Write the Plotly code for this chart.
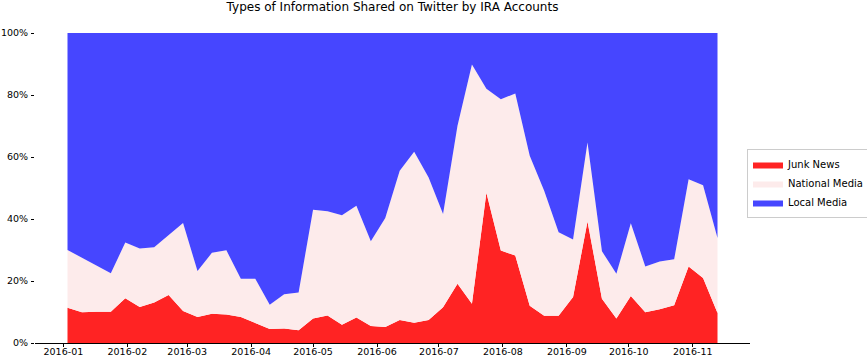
import pandas as pd
import plotly.graph_objects as go

# Weekly buckets (week ending Sunday)
weeks = pd.date_range("2016-01-03", periods=46, freq="7D")

series_names = ["Junk News", "National Media", "Local Media"]

junk_news = [11.4, 9.9, 10.1, 10.1, 14.4, 11.6, 13.1, 15.5, 10.3, 8.4, 9.4, 9.2, 8.4, 6.4, 4.5,
             4.7, 4.1, 7.9, 8.9, 5.9, 8.2, 5.5, 5.2, 7.4, 6.5, 7.4, 11.5, 19.1, 12.7, 48.5,
             29.8, 28.2, 12.0, 8.8, 8.8, 14.8, 39.2, 14.3, 7.9, 15.2, 9.9, 10.9, 12.2, 24.7,
             21.0, 9.7]
national_media = [18.6, 17.6, 14.8, 12.4, 18.0, 18.9, 17.8, 19.3, 28.4, 14.8, 19.7, 20.7, 12.3,
                  14.3, 7.8, 11.0, 12.2, 35.1, 33.6, 35.3, 36.1, 27.3, 35.1, 48.2, 55.2, 46.0,
                  30.1, 51.0, 77.1, 33.5, 48.8, 52.3, 48.4, 40.3, 26.9, 18.6, 25.5, 15.3, 14.4,
                  23.4, 14.8, 15.4, 14.8, 28.1, 29.9, 24.2]
local_media = [70.0, 72.5, 75.1, 77.5, 67.6, 69.5, 69.1, 65.2, 61.3, 76.8, 70.9, 70.1, 79.3,
               79.3, 87.7, 84.3, 83.7, 57.0, 57.5, 58.8, 55.7, 67.2, 59.7, 44.4, 38.3, 46.6,
               58.4, 29.9, 10.2, 18.0, 21.4, 19.5, 39.6, 50.9, 64.3, 66.6, 35.3, 70.4, 77.7,
               61.4, 75.3, 73.7, 73.0, 47.2, 49.1, 66.1]

colors = ["#FF2323", "#FDEBEB", "#4646FF"]

month_ticks = pd.date_range("2016-01-01", "2016-11-01", freq="MS")
month_labels = [d.strftime("%Y-%m") for d in month_ticks]
y_ticks = [0, 20, 40, 60, 80, 100]
y_labels = [f"{v}%" for v in y_ticks]

fig = go.Figure()
for name, vals, col in zip(series_names, [junk_news, national_media, local_media], colors):
    fig.add_trace(go.Scatter(
        x=weeks, y=vals, name=name, stackgroup="one", groupnorm="percent",
        mode="lines", line=dict(width=0, color=col), fillcolor=col,
        hoverinfo="x+y+name",
    ))

fig.update_layout(
    width=867, height=358,
    margin=dict(l=35, r=117, t=33, b=15, autoexpand=False),
    paper_bgcolor="white", plot_bgcolor="white",
    font=dict(family="DejaVu Sans", size=10, color="black"),
    title=dict(text="Types of Information Shared on Twitter by IRA Accounts",
               x=0.5, xref="paper", xanchor="center",
               y=1 - 7 / 358, yref="container", yanchor="middle",
               font=dict(size=12, family="DejaVu Sans", color="black")),
    legend=dict(x=747 / 867, xref="container", xanchor="left",
                y=1 - 149 / 358, yref="container", yanchor="top",
                bordercolor="#CCCCCC", borderwidth=1, traceorder="normal",
                itemwidth=30, font=dict(size=10), bgcolor="white"),
    showlegend=True,
)
fig.update_xaxes(
    type="date", range=["2015-12-18 06:00", "2016-11-28 18:00"],
    tickvals=list(month_ticks), ticktext=month_labels, automargin=False,
    showgrid=False, zeroline=False, showline=True, linecolor="black", linewidth=1,
    ticks="outside", ticklen=3, tickcolor="black", ticklabelstandoff=-3,
    tickfont=dict(size=9.5),
)
fig.update_yaxes(
    range=[0, 100], tickvals=y_ticks, ticktext=y_labels, automargin=False,
    showgrid=False, zeroline=False, showline=False,
    ticks="outside", ticklen=3, tickcolor="black", ticklabelstandoff=1,
    tickfont=dict(size=9.5),
)

fig.write_html("out.html")
